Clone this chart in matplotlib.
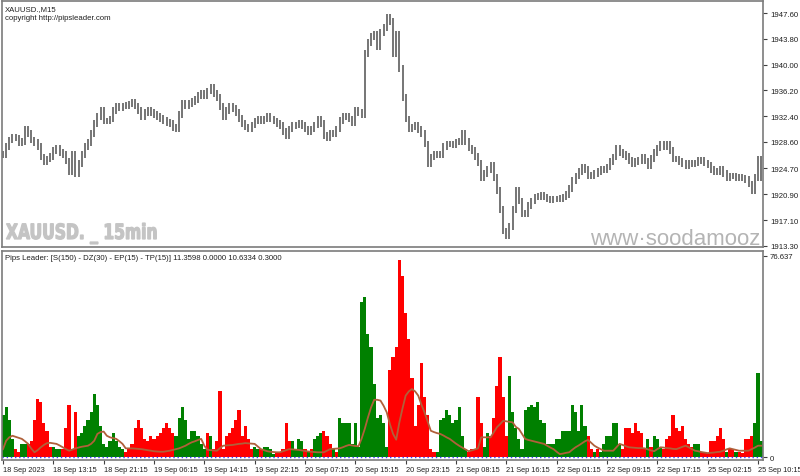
import matplotlib

matplotlib.use("Agg")
import matplotlib.pyplot as plt
import numpy as np
from matplotlib.font_manager import FontProperties
from matplotlib.patches import PathPatch
from matplotlib.textpath import TextPath
from matplotlib.transforms import Affine2D

closes = [
    1926.8, 1927.9, 1928.9, 1929.3, 1929.2, 1928.5, 1928.7, 1930.5, 1929.8, 1928.9,
    1928.5, 1927.9, 1926.4, 1925.7, 1926.1, 1926.5, 1927.3, 1927.6, 1927.1, 1926.7,
    1925.8, 1924.3, 1926.8, 1923.9, 1925.4, 1926.8, 1927.9, 1928.5, 1929.8, 1931.3,
    1932.4, 1933.2, 1931.7, 1931.7, 1932.0, 1933.2, 1933.8, 1933.6, 1933.9, 1934.0,
    1934.2, 1934.5, 1933.9, 1933.2, 1932.4, 1932.9, 1933.2, 1932.9, 1932.7, 1932.4,
    1932.1, 1931.8, 1931.5, 1931.3, 1930.7, 1930.5, 1932.6, 1934.3, 1934.0, 1934.3,
    1934.6, 1934.9, 1935.5, 1935.8, 1935.4, 1936.1, 1936.7, 1935.7, 1935.1, 1933.8,
    1932.4, 1933.2, 1933.8, 1933.5, 1932.9, 1932.1, 1931.3, 1930.8, 1930.5, 1931.1,
    1931.7, 1932.0, 1931.7, 1932.0, 1932.3, 1932.0, 1931.7, 1931.3, 1931.0, 1930.2,
    1929.5, 1930.5, 1931.0, 1931.1, 1931.3, 1931.0, 1930.5, 1930.1, 1930.5, 1931.1,
    1932.0, 1931.3, 1929.5, 1929.3, 1929.8, 1929.9, 1930.5, 1931.8, 1932.3, 1932.4,
    1932.0, 1931.5, 1933.2, 1933.0, 1932.6, 1941.6, 1943.3, 1944.1, 1944.5, 1942.6,
    1944.7, 1945.5, 1947.0, 1946.4, 1941.6, 1944.5, 1939.4, 1935.2, 1932.0, 1930.5,
    1930.8, 1931.0, 1930.4, 1929.8, 1928.3, 1925.4, 1926.4, 1926.7, 1926.8, 1926.7,
    1927.9, 1928.3, 1928.3, 1928.2, 1928.6, 1928.7, 1929.8, 1928.7, 1927.7, 1927.3,
    1926.5, 1925.5, 1923.4, 1923.9, 1924.6, 1925.2, 1923.4, 1921.4, 1918.7, 1915.5,
    1914.8, 1916.1, 1918.7, 1921.4, 1919.9, 1918.1, 1918.0, 1919.3, 1919.9, 1920.5,
    1920.6, 1920.8, 1920.5, 1920.2, 1920.1, 1920.2, 1920.2, 1920.3, 1920.5, 1920.9,
    1921.7, 1922.9, 1923.6, 1924.2, 1924.9, 1924.5, 1923.7, 1923.6, 1924.0, 1924.2,
    1924.5, 1924.6, 1924.9, 1925.7, 1926.4, 1927.6, 1927.1, 1926.8, 1926.5, 1925.9,
    1925.4, 1925.7, 1925.9, 1926.4, 1925.8, 1925.1, 1926.2, 1927.0, 1927.7, 1928.3,
    1927.9, 1928.2, 1927.3, 1926.1, 1926.1, 1925.7, 1925.4, 1925.1, 1925.4, 1925.4,
    1925.5, 1925.9, 1925.9, 1925.5, 1925.2, 1924.6, 1924.2, 1924.3, 1924.5, 1924.0,
    1923.4, 1923.6, 1923.6, 1923.4, 1923.4, 1923.3, 1923.1, 1922.4, 1921.4, 1923.4,
    1926.1, 1923.4,
]

# Pips Leader histogram: height and direction (G = up / green, R = down / red)
pips = [
    16, 19, 14, 7, 3, 2, 5, 5, 5, 6,
    14, 22, 21, 13, 10, 4, 4, 3, 3, 3,
    11, 20, 3, 17, 8, 9, 12, 14, 17, 24,
    20, 12, 5, 4, 6, 9, 6, 4, 3, 2,
    3, 5, 11, 14, 11, 7, 6, 8, 7, 8,
    9, 11, 13, 11, 9, 8, 15, 19, 14, 7,
    10, 10, 8, 5, 3, 9, 8, 3, 6, 25,
    3, 8, 9, 11, 14, 18, 8, 12, 7, 3,
    4, 3, 3, 4, 4, 3, 1, 2, 2, 3,
    13, 6, 6, 3, 7, 6, 3, 2, 3, 7,
    8, 9, 10, 8, 5, 3, 2, 15, 13, 13,
    13, 5, 13, 4, 59, 61, 47, 42, 28, 15,
    16, 13, 4, 33, 38, 42, 75, 69, 55, 45,
    30, 12, 20, 36, 23, 16, 3, 2, 2, 14,
    15, 18, 16, 13, 14, 19, 8, 3, 2, 3,
    3, 23, 13, 4, 9, 8, 15, 27, 38, 23,
    8, 31, 17, 11, 7, 3, 18, 19, 20, 19,
    21, 14, 13, 5, 5, 5, 7, 7, 10, 10,
    10, 20, 17, 10, 20, 12, 8, 3, 2, 3,
    2, 5, 8, 8, 13, 13, 5, 3, 11, 11,
    9, 13, 10, 9, 3, 7, 4, 8, 7, 4,
    3, 7, 8, 16, 11, 10, 12, 7, 5, 4,
    5, 5, 2, 2, 1.5, 6, 6, 8, 11, 7,
    2, 3, 3, 2, 2, 1.5, 7, 7, 8, 13,
    32, 6,
]
pips_dir = (
    "GGGGRRGGRR" "RRRRRRGGGR" "RRRRGGGGGG" "GGGGGGGGGR" "RRRRRRRRRR"
    "RRRRRGGGGG" "GGGGGRGRRR" "RRRRRRRRRR" "GGRGGGGRRR" "RRGGGGRGRG"
    "GGRRRGRGGG" "GGGGGGGGGG" "GGGRRRRRRR" "RRRRRRRRGG" "GGGGGGGGRR"
    "RRRGGRRRRR" "RGGGGGGGGG" "GGGGGGGGGG" "GGGGGGRRGR" "GGGGGGGRRR"
    "RRRRRGRGGG" "RRRRRRRRRR" "GGRRRRRRRR" "GRRGRRRRRG" "GG"
)
pips_avg = [
    3.0, 6.2, 7.5, 8.1, 7.7, 7.3, 6.9, 6.0, 5.0, 3.2,
    1.8, 2.6, 3.7, 4.6, 5.3, 5.4, 5.2, 5.0, 4.4, 3.7,
    3.0, 2.4, 2.8, 3.3, 3.6, 3.9, 4.1, 4.3, 5.0, 6.2,
    8.8, 9.5, 9.7, 8.1, 7.5, 7.2, 6.9, 6.0, 5.0, 3.3,
    3.3, 3.3, 3.2, 3.1, 3.0, 2.8, 2.6, 2.4, 2.2, 2.1,
    2.0, 2.0, 2.2, 2.4, 2.7, 3.0, 3.3, 3.8, 4.3, 5.0,
    5.6, 6.0, 6.5, 6.9, 4.3, 2.7, 2.6, 2.5, 2.4, 3.4,
    4.3, 4.4, 4.5, 4.6, 4.8, 5.0, 5.1, 5.3, 5.2, 5.1,
    5.0, 4.0, 3.0, 2.6, 2.2, 2.0, 1.9, 1.8, 1.8, 2.2,
    2.6, 3.0, 2.9, 2.8, 2.7, 2.5, 2.3, 2.1, 2.0, 1.9,
    1.8, 1.8, 1.8, 2.4, 3.0, 3.1, 3.2, 3.3, 3.7, 4.2,
    4.6, 4.4, 4.2, 4.1, 7.0, 10.7, 15.0, 18.9, 21.8, 21.8,
    21.5, 19.5, 17.0, 12.5, 8.8, 6.6, 13.2, 18.5, 23.4, 25.0,
    25.9, 25.0, 23.4, 20.0, 17.0, 13.5, 10.0, 9.5, 9.1, 8.8,
    8.2, 7.5, 6.9, 6.0, 5.1, 4.3, 3.6, 2.9, 2.2, 2.5,
    2.9, 3.3, 7.5, 7.5, 7.5, 7.5, 9.4, 11.3, 12.5, 13.8,
    13.6, 13.4, 13.2, 11.5, 10.7, 8.8, 6.9, 6.5, 6.2, 5.9,
    5.6, 5.3, 5.0, 4.3, 3.6, 3.0, 2.0, 1.1, 1.3, 1.6,
    1.8, 2.8, 3.7, 4.4, 5.2, 6.0, 6.5, 5.4, 4.3, 3.6,
    3.0, 2.4, 2.4, 2.4, 2.4, 3.7, 5.0, 4.6, 4.1, 3.7,
    3.6, 3.5, 3.4, 3.4, 3.3, 2.9, 2.5, 2.2, 3.0, 3.7,
    3.6, 3.4, 3.3, 3.1, 3.0, 3.4, 3.9, 4.3, 3.7, 3.0,
    2.4, 2.2, 1.9, 1.7, 1.5, 1.6, 1.7, 1.9, 2.0, 2.4,
    2.9, 3.3, 3.0, 2.7, 2.4, 2.4, 2.4, 2.4, 3.0, 3.6,
    4.3, 4.3,
]

time_labels = [
    "18 Sep 2023", "18 Sep 13:15", "18 Sep 21:15", "19 Sep 06:15",
    "19 Sep 14:15", "19 Sep 22:15", "20 Sep 07:15", "20 Sep 15:15",
    "20 Sep 23:15", "21 Sep 08:15", "21 Sep 16:15", "22 Sep 01:15",
    "22 Sep 09:15", "22 Sep 17:15", "25 Sep 02:15", "25 Sep 10:15",
]
label_step = 16
price_ticks = [1913.30, 1917.10, 1920.90, 1924.70, 1928.60,
               1932.40, 1936.20, 1940.00, 1943.80, 1947.60]
pips_max = 76.637

W, H = 800, 477
FRAME = "#7c7c7c"
FS = 5.6
plt.rcParams["font.family"] = ["Liberation Sans", "DejaVu Sans"]


def box(left, top, right, bottom):
    return [left / W, 1 - bottom / H, (right - left) / W, (bottom - top) / H]


def style_axes(ax):
    for sp in ax.spines.values():
        sp.set_color(FRAME)
        sp.set_linewidth(1.2)
    ax.yaxis.tick_right()
    ax.tick_params(axis="y", direction="out", length=3, width=0.8,
                   color="#404040", labelsize=FS, pad=2, labelcolor="#202020")


fig = plt.figure(figsize=(W / 100, H / 100), dpi=100)
ax1 = fig.add_axes(box(2, 2, 763, 248))
ax2 = fig.add_axes(box(2, 252, 763, 461))

x = np.arange(len(closes))
c = np.array(closes)
o = np.concatenate([[c[0]], c[:-1]])
ax1.vlines(x, np.minimum(o, c) - 0.5, np.maximum(o, c) + 0.5,
           color="#505050", lw=1.1)
ax1.set_xlim(-0.32, 241.6)
ax1.set_ylim(1913.13, 1949.37)
style_axes(ax1)
ax1.set_yticks(price_ticks)
ax1.set_yticklabels([f"{p:.2f}" for p in price_ticks])
ax1.set_xticks([])

colors = ["#008000" if d == "G" else "#ff0000" for d in pips_dir]
ax2.bar(x, pips, width=1.0, color=colors, linewidth=0)
ax2.plot(x, pips_avg, color="#b0603a", lw=1.3)
ax2.axhline(0, color="#3c3cff", lw=1.0, ls=(0, (1, 2)))
ax2.set_xlim(-0.32, 241.6)
ax2.set_ylim(-1.14, 78.5)
style_axes(ax2)
ax2.set_yticks([0, pips_max])
ax2.set_yticklabels(["0", f"{pips_max:.3f}"])
ax2.set_xticks(x[::label_step][:len(time_labels)])
ax2.set_xticklabels(time_labels, ha="left")
ax2.tick_params(axis="x", direction="out", length=3, width=0.8,
                color="#404040", labelsize=5.3, pad=1.5, labelcolor="#202020")

# captions
fig.text(5 / W, 1 - 10 / H, "XAUUSD.,M15", fontsize=FS, va="center", color="#202020")
fig.text(5 / W, 1 - 19 / H, "copyright http://pipsleader.com", fontsize=FS,
         va="center", color="#202020")
fig.text(5 / W, 1 - 258 / H,
         "Pips Leader: [S(150) - DZ(30) - EP(15) - TP(15)] 11.3598 0.0000 10.6334 0.3000",
         fontsize=FS, va="center", color="#202020")

# condensed heavy watermark, squeezed horizontally (pixel coordinates)
wm = TextPath((0, 0), "XAUUSD. _ 15min", size=21,
              prop=FontProperties(family="DejaVu Sans", weight="bold"))
fig.add_artist(PathPatch(wm, transform=Affine2D().scale(0.74, 1.0).translate(6, H - 240),
                         facecolor="#c4c4c4", edgecolor="#c4c4c4", lw=0.9))
fig.text(760 / W, 1 - 240 / H, "www\u00b7soodamooz", fontsize=16, va="center",
         ha="right", color="#b4b4b4")

fig.savefig("out.png", dpi=100)
